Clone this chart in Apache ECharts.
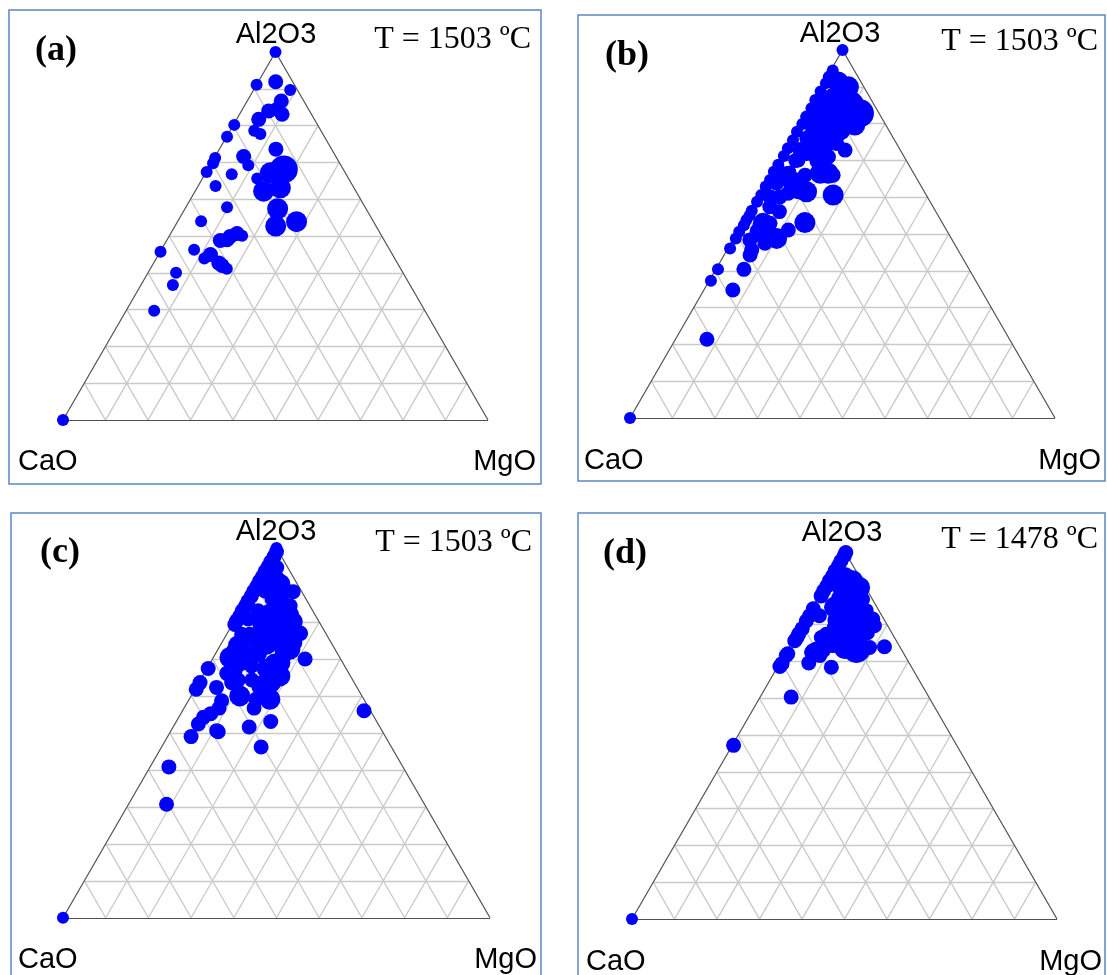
<!DOCTYPE html>
<html><head><meta charset="utf-8">
<script src="https://cdn.jsdelivr.net/npm/echarts@6/dist/echarts.min.js"></script>
<style>html,body{margin:0;padding:0;background:#fff}#c{width:1107px;height:975px}</style>
</head><body><div id="c"></div>
<script>
// ---------- DATA ----------
const components = ['Al2O3', 'CaO', 'MgO'];          // top, left, right vertices
const gridTicks = [10, 20, 30, 40, 50, 60, 70, 80, 90]; // % grid levels
const panelLabels = ['(a)', '(b)', '(c)', '(d)'];
const temperatures = ['T = 1503 ºC', 'T = 1503 ºC', 'T = 1503 ºC', 'T = 1478 ºC'];

// rows: [Al2O3 %, MgO %, relative inclusion size class 1..4]  (CaO = 100 - Al2O3 - MgO)
const panelA = [
  [100,0,1],[0,0,1],
  [91.1,0,1],[91.9,4.1,2],[89.7,8.6,1],[86.7,8.0,2],[84.0,6.4,2],[84.5,8.2,2],[83.1,10.0,2],[81.7,5.2,2],
  [78.6,5.7,1],[77.7,7.6,1],[80.2,0.2,1],[77.0,0.1,1],[73.6,13.3,2],[68.1,17.9,4],[67.2,15.2,3],[63.1,19.6,3],
  [62.2,16.1,3],[65.6,12.9,1],[71.6,6.7,2],[69.2,9.0,1],[71.2,0.2,1],[69.8,0.4,1],[67.4,0.1,1],[66.8,6.3,1],
  [63.6,4.1,1],[57.8,9.7,1],[57.4,21.8,3],[52.7,23.7,3],[53.9,28.0,3],[54.0,5.5,1],[48.8,12.6,2],[49.9,14.4,2],
  [50.7,15.6,2],[50.1,17.1,1],[49.0,14.1,2],[45.7,0.1,1],[46.3,7.7,1],[43.9,11.3,1],[45.0,12.2,2],[42.7,15.3,2],
  [41.1,18.0,1],[42.0,16.4,2],[40.0,6.6,1],[36.7,7.5,1],[29.7,6.6,1]
];
const panelB = [
  [100,0,1],[0,0,1],
  [94.4,0.5,1],[92.7,0.4,1],[91.0,0.6,1],[88.7,0.5,1],[86.4,0.4,1],[84.2,0.6,1],[81.9,0.5,1],[79.9,0.6,1],
  [77.8,0.4,1],[75.5,0.6,1],[73.3,0.5,1],[71.2,0.6,1],[68.8,0.5,1],[66.9,0.4,1],[64.7,0.6,1],[62.9,0.5,1],
  [60.6,0.6,1],[58.8,0.5,1],[56.3,0.5,1],[55.0,0.6,1],[53.8,0.5,1],[52.4,0.6,1],[50.6,0.4,1],[48.8,0.5,1],
  [46.1,0.5,1],[40.4,0.5,1],[37.3,0.4,1],
  [86,2.8,2],[84,3.0,2],[82,3.3,2],[79,3.5,2],[76,3.6,2],[73,3.8,2],[70,4.0,2],[67,4.2,1],
  [90.5,4.2,3],[90.0,6.4,3],[86.9,4.4,3],[85.5,9.8,3],[82.8,12.7,4],[81.9,10.0,3],[81.0,7.3,3],[80.5,4.4,3],
  [78.3,10.3,3],[76.9,7.8,3],[76.4,4.9,3],[72.8,8.3,3],[71.9,5.6,2],[74.6,11.3,2],[71.0,11.2,2],[70.1,9.6,3],
  [70.1,4.5,2],[66.0,8.2,2],[66.5,11.5,3],[66.5,13.4,3],[66.0,14.8,2],[65.6,4.1,3],[65.1,2.7,2],[64.7,6.9,2],
  [62.9,6.6,2],[63.8,2.6,2],[61.5,10.8,3],[60.6,17.5,3],[61.5,8.8,2],[61.1,6.7,2],[60.1,5.2,2],[60.1,2.9,2],
  [57.4,4.2,2],[56.1,7.1,2],[52.9,4.9,3],[52.9,6.5,2],[50.6,5.3,3],[48.8,10.1,3],[47.5,8.0,2],[51.1,11.7,2],
  [53.1,14.6,3],[48.4,4.0,2],[45.7,5.8,2],[44.3,6.1,2],[40.4,6.6,2],[34.8,6.8,2],[21.4,7.4,2],
  [91.3,3.3,3],[86.4,8.6,3],[84.2,8.0,3],[79.6,13.1,3],[75.5,9.3,3],[72.8,7.1,3],[72.8,14.2,2],[83.2,4.3,3],
  [78.8,3.7,2],[72.8,3.6,2]
];
const panelC = [
  [100,0,1],[0,0,1],
  [99.0,0.5,2],[97.6,0.6,2],[96.3,0.5,2],[95.0,0.6,2],[93.7,0.5,2],[92.3,0.6,2],[91.0,0.5,2],[89.6,0.6,2],
  [88.3,0.5,2],[87.0,0.6,2],[85.6,0.5,2],[84.3,0.6,2],[83.0,0.5,2],[81.6,0.6,2],[80.3,0.5,2],[79.3,0.6,2],
  [94.7,2.7,2],[88.2,9.8,2],[91.6,3.7,3],[90.2,5.7,3],[89.8,3.6,2],[88.4,3.1,2],[86.6,6.3,3],[86.2,8.1,2],
  [83.9,9.6,3],[84.4,11.0,2],[82.1,12.5,2],[80.3,14.2,2],[83.0,4.2,2],[81.7,5.7,2],[80.8,3.0,2],[82.1,7.4,3],
  [80.8,9.3,3],[77.1,16.9,2],[78.1,8.3,3],[78.5,12.0,3],[76.7,3.5,2],[75.4,4.9,2],[73.6,4.3,3],[72.2,4.6,3],
  [70.4,3.9,3],[67.4,0.3,2],[63.6,0.3,2],[61.8,0.3,2],[66.1,5.3,2],[66.8,6.9,2],[68.6,7.1,2],[69.5,8.3,2],
  [68.1,10.1,2],[63.6,7.7,2],[64.3,8.9,2],[64.3,12.1,2],[62.3,4.8,2],[60.0,11.4,3],[59.1,15.6,2],[56.7,16.4,2],
  [58.7,7.8,2],[56.7,8.2,2],[55.2,7.0,2],[54.2,5.8,2],[52.4,5.5,2],[49.0,5.5,2],[50.6,10.7,2],[51.6,17.8,2],
  [53.1,22.1,2],[46.2,23.3,2],[63.6,16.8,3],[59.1,18.9,3],[68.6,15.3,3],[69.0,16.3,3],[67.3,14.2,3],[71.7,9.5,3],
  [74.0,10.7,3],[74.9,13.4,3],[75.8,15.3,3],[74.4,17.1,2],[76.9,17.2,2],[70.0,21.7,2],[79.9,14.4,2],[79.4,12.7,3],
  [79.4,6.4,2],[78.5,9.2,3],[76.7,5.4,2],[75.8,7.5,3],[56.0,42.5,2],[40.8,4.4,2],[30.7,8.9,2],[50.3,11.2,2],
  [72.2,15.9,3],[77.6,10.8,3],[72.7,16.8,3],[74.9,9.2,3],[65.4,18.1,3],[62.7,15.2,3]
];
const panelD = [
  [0,0,1],
  [99.6,0.5,2],[98.7,0.6,2],[97.3,0.5,2],[96.0,0.6,2],[94.6,0.5,2],[93.2,0.6,2],[91.9,0.5,2],[90.5,0.6,2],
  [89.2,0.5,2],[87.8,0.6,2],[84.3,0.5,2],[82.4,0.6,2],[81.0,0.5,2],[78.9,0.6,2],[77.5,0.5,2],[76.5,0.6,2],
  [75.6,0.5,2],[72.1,0.6,2],[71.6,0.5,2],[69.4,0.6,2],[68.6,0.5,2],
  [92.8,3.6,3],[91.9,6.0,3],[90.5,3.2,2],[90.1,8.5,3],[89.2,6.2,3],[86.9,5.8,3],[86.5,9.1,3],[86.9,10.8,2],
  [84.7,5.3,3],[83.8,8.5,3],[83.3,11.5,3],[83.8,13.2,2],[81.1,14.2,3],[81.5,15.9,2],[81.1,7.9,3],[80.6,11.3,3],
  [79.7,17.2,2],[77.9,11.1,3],[77.4,14.4,3],[75.6,13.0,2],[79.2,8.0,2],[82.4,2.9,2],[77.4,7.0,2],[76.5,6.3,2],
  [72.9,6.1,2],[71.6,8.4,2],[74.3,8.9,2],[73.4,16.1,4],[73.8,19.0,2],[74.0,22.4,2],[68.4,12.7,2],[69.6,6.8,2],
  [72.5,6.0,2],[73.4,6.7,2],[72.9,8.5,2],[74.3,10.1,2],[60.3,7.3,2],[47.2,0.3,2],
  [83.8,6.9,3],[79.7,14.1,3],[77.0,12.7,3],[75.6,10.5,3],[77.8,16.5,2],[88.6,5.7,3],[87.8,9.1,3],[73.5,13.3,3]
];
const panels = [panelA, panelB, panelC, panelD];

// ---------- LAYOUT / STYLE ----------
const SQ = Math.sqrt(3) / 2;
const sizePx = [11, 12, 15, 21, 28];
const triLayout = [
  {left: 63, top: 52, width: 425},
  {left: 630, top: 50, width: 425},
  {left: 63, top: 548, width: 427},
  {left: 632, top: 551, width: 425}
];
const boxLayout = [
  [9, 10, 532, 474], [578, 15, 527, 466], [11, 513, 530, 470], [578, 513, 527, 470]
];
const textLayout = [
  {top:[276,35], cao:[18,462], mgo:[536,462], lab:[56,51], t:[531,40]},
  {top:[840,34], cao:[584,461], mgo:[1101,461], lab:[627,56], t:[1098,42]},
  {top:[276,532], cao:[18,960], mgo:[537,960], lab:[60,553], t:[532,543]},
  {top:[842,533], cao:[586,962], mgo:[1102,962], lab:[625,554], t:[1098,540]}
];

function tern(al, mg) { return [(mg + al / 2) / 100, al / 100 * SQ]; }

const grids = [], xAxes = [], yAxes = [], series = [], graphics = [];
panels.forEach((rows, i) => {
  const L = triLayout[i];
  grids.push({left: L.left, top: L.top, width: L.width, height: L.width * SQ});
  xAxes.push({type: 'value', gridIndex: i, min: 0, max: 1, show: false});
  yAxes.push({type: 'value', gridIndex: i, min: 0, max: SQ, show: false});
  const segs = [];
  gridTicks.forEach(t => {
    segs.push({coords: [tern(t, 0), tern(t, 100 - t)]});
    segs.push({coords: [tern(0, t), tern(100 - t, t)]});
    segs.push({coords: [tern(0, 100 - t), tern(100 - t, 0)]});
  });
  series.push({type: 'lines', coordinateSystem: 'cartesian2d', xAxisIndex: i, yAxisIndex: i,
    silent: true, clip: false, z: 1, data: segs,
    lineStyle: {color: '#c9c9c9', width: 1.3, opacity: 1}});
  series.push({type: 'lines', coordinateSystem: 'cartesian2d', xAxisIndex: i, yAxisIndex: i,
    silent: true, clip: false, z: 2,
    data: [{coords: [tern(0, 0), tern(0, 100)]}, {coords: [tern(0, 100), tern(100, 0)]}, {coords: [tern(100, 0), tern(0, 0)]}],
    lineStyle: {color: '#505050', width: 1.2, opacity: 1}});
  series.push({type: 'scatter', xAxisIndex: i, yAxisIndex: i, clip: false, z: 5,
    data: rows.map(r => tern(r[0], r[1]).concat([r[2]])),
    symbolSize: v => sizePx[v[2]],
    itemStyle: {color: '#0000ff', opacity: 1}});

  const B = boxLayout[i];
  graphics.push({type: 'rect', shape: {x: B[0], y: B[1], width: B[2], height: B[3]},
    style: {fill: 'none', stroke: '#5b87c6', lineWidth: 1.5}, z: 10});
  const T = textLayout[i];
  const sans = '29px "Liberation Sans", Arial, sans-serif';
  const mk = (txt, p, font, align) => ({type: 'text', x: p[0], y: p[1], z: 11,
    style: {text: txt, font: font, fill: '#000', textAlign: align, textVerticalAlign: 'middle', align: align, verticalAlign: 'middle'}});
  graphics.push(mk(components[0], T.top, sans, 'center'));
  graphics.push(mk(components[1], T.cao, sans, 'left'));
  graphics.push(mk(components[2], T.mgo, sans, 'right'));
  graphics.push(mk(panelLabels[i], T.lab, 'bold 36px "Liberation Serif", "Times New Roman", serif', 'center'));
  graphics.push(mk(temperatures[i], T.t, '32px "Liberation Serif", "Times New Roman", serif', 'right'));
});

const chart = echarts.init(document.getElementById('c'), null, {renderer: 'canvas'});
chart.setOption({
  animation: false,
  backgroundColor: '#fff',
  grid: grids, xAxis: xAxes, yAxis: yAxes, series: series,
  graphic: {elements: graphics}
});
</script></body></html>
